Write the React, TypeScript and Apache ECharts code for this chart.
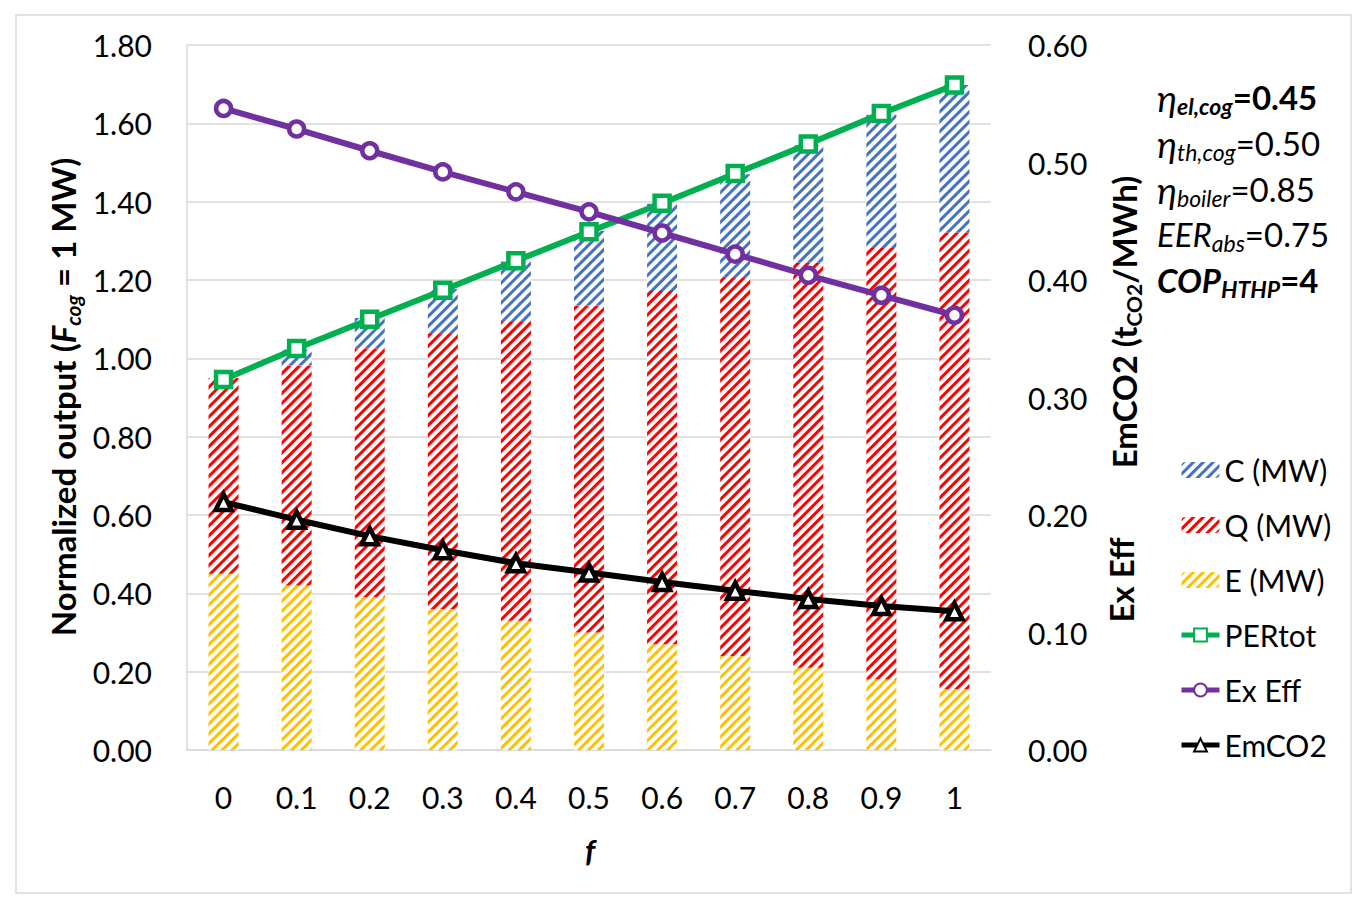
import React, { useEffect, useRef } from "react";
import * as echarts from "echarts";

const categories = ["0", "0.1", "0.2", "0.3", "0.4", "0.5", "0.6", "0.7", "0.8", "0.9", "1"];
const eValues = [0.45, 0.42, 0.39, 0.36, 0.33, 0.30, 0.27, 0.24, 0.21, 0.18, 0.155];
const qValues = [0.50, 0.562, 0.636, 0.702, 0.763, 0.835, 0.902, 0.965, 1.034, 1.102, 1.167];
const cValues = [0, 0.04, 0.077, 0.115, 0.154, 0.19, 0.223, 0.265, 0.30, 0.34, 0.376];
const perTot = [0.946, 1.025, 1.1, 1.174, 1.249, 1.323, 1.396, 1.472, 1.547, 1.625, 1.698];
const exEff = [0.546, 0.5285, 0.51, 0.492, 0.475, 0.458, 0.44, 0.422, 0.404, 0.387, 0.37];
const emCO2 = [0.211, 0.196, 0.182, 0.17, 0.159, 0.151, 0.143, 0.1355, 0.1285, 0.1225, 0.118];
const leftTicks = { min: 0, max: 1.8, interval: 0.2 };
const rightTicks = { min: 0, max: 0.6, interval: 0.1 };

const FONT = "Lato, 'DejaVu Sans', sans-serif";
const GRID = "#d9d9d9";

function hatch(color: string) {
  return {
    symbol: "rect",
    symbolSize: 1,
    dashArrayX: [1, 0],
    dashArrayY: [2.2, 3.2],
    rotation: -Math.PI / 4,
    color,
  };
}

function lineSeries(name: string, data: number[], color: string, symbol: string, size: number, axis: number) {
  return {
    name,
    type: "line",
    yAxisIndex: axis,
    data,
    color,
    symbol,
    symbolSize: size,
    showAllSymbol: true,
    lineStyle: { color, width: 6, type: "solid" },
    itemStyle: { color: "#fff", borderColor: color, borderWidth: 4.5 },
    emphasis: { disabled: true },
    z: 5,
  };
}

export default function App() {
  const ref = useRef<HTMLDivElement>(null);
  useEffect(() => {
    if (!ref.current) return;
    const chart = echarts.init(ref.current, undefined, { renderer: "svg" });
    const mainRich = {
      m: { fontSize: 33, fontFamily: FONT, fill: "#000", lineHeight: 40 },
      mb: { fontSize: 33, fontFamily: FONT, fill: "#000", fontWeight: "bold", lineHeight: 40 },
      eta: { fontSize: 37, fontFamily: FONT, fill: "#000", fontStyle: "italic", lineHeight: 40 },
      it: { fontSize: 33, fontFamily: FONT, fill: "#000", fontStyle: "italic", lineHeight: 40 },
      bi: { fontSize: 33, fontFamily: FONT, fill: "#000", fontStyle: "italic", fontWeight: "bold", lineHeight: 40 },
      s: { fontSize: 23, fontFamily: FONT, fill: "#000", fontStyle: "italic", verticalAlign: "bottom", lineHeight: 25 },
      sb: { fontSize: 23, fontFamily: FONT, fill: "#000", fontStyle: "italic", fontWeight: "bold", verticalAlign: "bottom", lineHeight: 25 },
    };
    const titleRich = {
      b: { fontSize: 33, fontFamily: FONT, fill: "#000", fontWeight: "bold", lineHeight: 40 },
      bi: { fontSize: 33, fontFamily: FONT, fill: "#000", fontWeight: "bold", fontStyle: "italic", lineHeight: 40 },
      s: { fontSize: 21, fontFamily: FONT, fill: "#000", fontWeight: "bold", fontStyle: "italic", verticalAlign: "bottom", lineHeight: 23 },
      sn: { fontSize: 21, fontFamily: FONT, fill: "#000", fontWeight: "bold", verticalAlign: "bottom", lineHeight: 23 },
    };
    const paramTexts = [
      { y: 97, text: "{eta|η}{sb|el,cog}{mb|=0.45}" },
      { y: 143, text: "{eta|η}{s|th,cog}{m|=0.50}" },
      { y: 189, text: "{eta|η}{s|boiler}{m|=0.85}" },
      { y: 234, text: "{it|EER}{s|abs}{m|=0.75}" },
      { y: 280, text: "{bi|COP}{sb|HTHP}{mb|=4}" },
    ];
    const option: any = {
      animation: false,
      backgroundColor: "#fff",
      grid: { left: 187, right: 375, top: 45, bottom: 158, containLabel: false },
      legend: {
        orient: "vertical",
        left: 1174,
        top: 450,
        itemWidth: 38,
        itemHeight: 16,
        itemGap: 25,
        lineStyle: { width: 5 },
        textStyle: { fontSize: 30, fontFamily: FONT, color: "#000" },
        data: ["C (MW)", "Q (MW)", "E (MW)", "PERtot", "Ex Eff", "EmCO2"],
      },
      xAxis: {
        type: "category",
        data: categories,
        axisLine: { lineStyle: { color: GRID, width: 1.5 } },
        axisTick: { inside: true, length: 10, lineStyle: { color: GRID, width: 1.5 } },
        axisLabel: { fontSize: 30, fontFamily: FONT, color: "#000", margin: 32 },
        splitLine: { show: false },
      },
      yAxis: [
        {
          type: "value",
          ...leftTicks,
          axisLine: { show: true, lineStyle: { color: GRID, width: 1.5 } },
          axisTick: { show: false },
          splitLine: { lineStyle: { color: GRID, width: 1.5 } },
          axisLabel: { fontSize: 30, fontFamily: FONT, color: "#000", margin: 35, formatter: (v: number) => v.toFixed(2) },
        },
        {
          type: "value",
          position: "right",
          ...rightTicks,
          axisLine: { show: false },
          axisTick: { show: false },
          splitLine: { show: false },
          axisLabel: { fontSize: 30, fontFamily: FONT, color: "#000", margin: 37, formatter: (v: number) => v.toFixed(2) },
        },
      ],
      series: [
        {
          name: "E (MW)", type: "bar", stack: "tot", barWidth: 30, data: eValues,
          itemStyle: { color: "#fff", decal: hatch("#FFC000") },
        },
        {
          name: "Q (MW)", type: "bar", stack: "tot", barWidth: 30, data: qValues,
          itemStyle: { color: "#fff", decal: hatch("#FF0000") },
        },
        {
          name: "C (MW)", type: "bar", stack: "tot", barWidth: 30, data: cValues,
          itemStyle: { color: "#fff", decal: hatch("#4472C4") },
        },
        lineSeries("PERtot", perTot, "#00B050", "rect", 15, 0),
        lineSeries("Ex Eff", exEff, "#7030A0", "circle", 15, 1),
        lineSeries("EmCO2", emCO2, "#000000", "triangle", 16, 1),
      ],
      graphic: [
        {
          type: "rect", z: -10, silent: true,
          shape: { x: 16, y: 15, width: 1335, height: 878 },
          style: { fill: "none", stroke: GRID, lineWidth: 1.5 },
        },
        {
          type: "text", x: 63, y: 397, rotation: Math.PI / 2,
          style: {
            text: "{b|Normalized output (}{bi|F}{s|cog}{b| = 1 MW)}",
            rich: titleRich, align: "center", verticalAlign: "middle",
          },
        },
        {
          type: "text", x: 1124, y: 322, rotation: Math.PI / 2,
          style: {
            text: "{b|EmCO2 (t}{sn|CO2}{b|/MWh)}",
            rich: titleRich, align: "center", verticalAlign: "middle",
          },
        },
        {
          type: "text", x: 1121, y: 580, rotation: Math.PI / 2,
          style: { text: "{b|Ex Eff}", rich: titleRich, align: "center", verticalAlign: "middle" },
        },
        {
          type: "text", x: 590, y: 850,
          style: { text: "{bi|f}", rich: { bi: { ...titleRich.bi, fontSize: 31 } }, align: "center", verticalAlign: "middle" },
        },
        ...paramTexts.map((p) => ({
          type: "text", x: 1157, y: p.y,
          style: { text: p.text, rich: mainRich, align: "left", verticalAlign: "middle" },
        })),
      ],
    };
    chart.setOption(option);
    return () => chart.dispose();
  }, []);
  return (
    <div
      ref={ref}
      style={{ position: "absolute", left: 0, top: 0, width: 1366, height: 908 }}
    />
  );
}
